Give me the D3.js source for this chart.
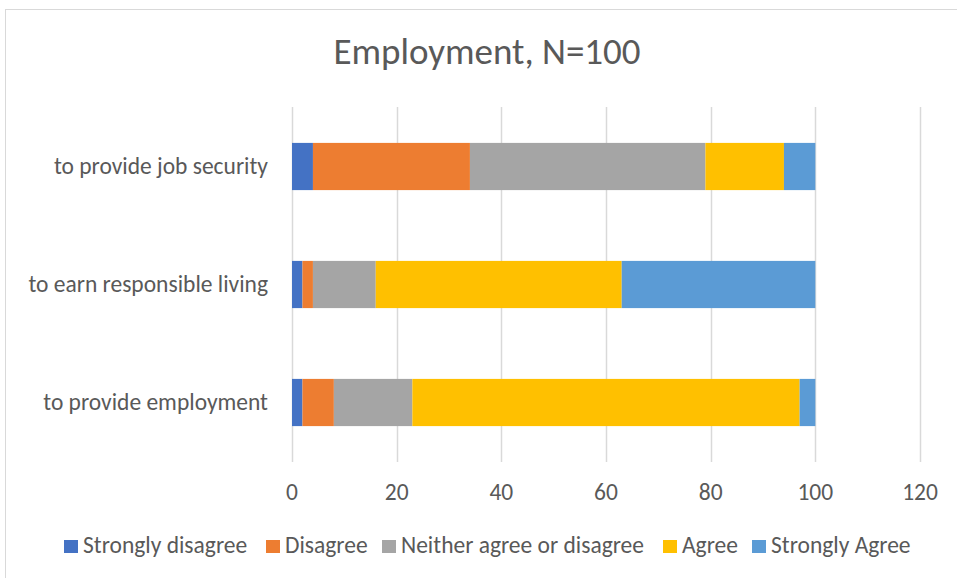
<!DOCTYPE html>
<meta charset="utf-8">
<script src="https://d3js.org/d3.v7.min.js"></script>
<style>
  body { margin: 0; background: #fff; }
  text { font-family: Carlito, "Open Sans", sans-serif; fill: #595959; }
</style>
<div id="my_dataviz"></div>
<script>

// categories, top to bottom
var categories = ["to provide job security", "to earn responsible living", "to provide employment"];

// series names and colours
var seriesNames = ["Strongly disagree", "Disagree", "Neither agree or disagree", "Agree", "Strongly Agree"];
var colors = ["#4472C4", "#ED7D31", "#A5A5A5", "#FFC000", "#5B9BD5"];

// values per series, same order as categories
var stronglyDisagree = [4, 2, 2];
var disagree = [30, 2, 6];
var neither = [45, 12, 15];
var agree = [15, 47, 74];
var stronglyAgree = [6, 37, 3];

var xTicks = [0, 20, 40, 60, 80, 100, 120];

var width = 957, height = 578;

var svg = d3.select("#my_dataviz")
  .append("svg")
    .attr("width", width)
    .attr("height", height);

// chart border (right and bottom edges fall outside the picture)
svg.append("rect")
  .attr("x", 5.5).attr("y", 9.5)
  .attr("width", 970).attr("height", 600)
  .attr("fill", "none")
  .attr("stroke", "#D9D9D9");

// title
svg.append("text")
  .attr("x", 487).attr("y", 64)
  .attr("text-anchor", "middle")
  .style("font-size", "37px")
  .text("Employment, N=100");

// build table for stacking
var table = categories.map(function(c, i) {
  return {
    cat: c,
    "Strongly disagree": stronglyDisagree[i],
    "Disagree": disagree[i],
    "Neither agree or disagree": neither[i],
    "Agree": agree[i],
    "Strongly Agree": stronglyAgree[i]
  };
});
var stacked = d3.stack().keys(seriesNames)(table);

var x = d3.scaleLinear().domain([0, 120]).range([292, 920]);
var y = d3.scaleBand()
  .domain(categories)
  .range([107.5, 461.5])
  .paddingInner(0.6)
  .paddingOuter(0.3);

// gridlines
svg.append("g")
  .selectAll("line")
  .data(xTicks)
  .enter().append("line")
    .attr("x1", function(d) { return Math.round(x(d)) + 0.5; })
    .attr("x2", function(d) { return Math.round(x(d)) + 0.5; })
    .attr("y1", 107)
    .attr("y2", 462)
    .attr("stroke", "#D9D9D9")
    .attr("stroke-width", 1.5);

// bars
svg.append("g")
  .selectAll("g")
  .data(stacked)
  .enter().append("g")
    .attr("fill", function(d, i) { return colors[i]; })
  .selectAll("rect")
  .data(function(d) { return d; })
  .enter().append("rect")
    .attr("x", function(d) { return x(d[0]); })
    .attr("y", function(d) { return y(d.data.cat); })
    .attr("width", function(d) { return x(d[1]) - x(d[0]); })
    .attr("height", y.bandwidth());

// x tick labels
svg.append("g")
  .selectAll("text")
  .data(xTicks)
  .enter().append("text")
    .attr("x", function(d) { return x(d); })
    .attr("y", 500)
    .attr("text-anchor", "middle")
    .style("font-size", "23.5px")
    .text(function(d) { return d; });

// category labels
svg.append("g")
  .selectAll("text")
  .data(categories)
  .enter().append("text")
    .attr("x", 268)
    .attr("y", function(d) { return y(d) + y.bandwidth() / 2 + 7; })
    .attr("text-anchor", "end")
    .style("font-size", "23.5px")
    .text(function(d) { return d; });

// legend
var legendX = [64, 266, 382, 663, 752];
var legend = svg.append("g")
  .selectAll("g")
  .data(seriesNames)
  .enter().append("g")
    .attr("transform", function(d, i) { return "translate(" + legendX[i] + ",540)"; });
legend.append("rect")
  .attr("width", 14).attr("height", 13)
  .attr("fill", function(d, i) { return colors[i]; });
legend.append("text")
  .attr("x", 19).attr("y", 13)
  .style("font-size", "23.5px")
  .text(function(d) { return d; });

</script>
